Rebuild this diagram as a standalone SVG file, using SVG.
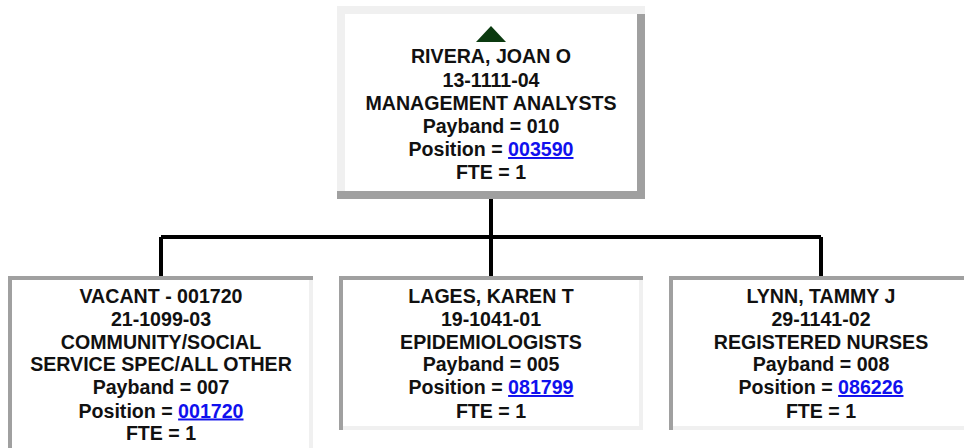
<svg xmlns="http://www.w3.org/2000/svg" width="964" height="448" viewBox="0 0 964 448">
<style>
.dk{fill:#a0a0a0}
.lt{fill:#f0f0f0}
.wh{fill:#ffffff}
.t{font-family:"Liberation Sans",Arial,sans-serif;font-weight:bold;font-size:19.6px;fill:#111;text-anchor:middle}
.lk{fill:#1010ee;text-decoration:underline}
.c{stroke:#000;stroke-width:4;fill:none}
</style>
<rect width="964" height="448" fill="#fff"/>
<g id="connectors">
<path class="c" d="M491 199V237M161 237H821M161 237V276M491 237V276M821 237V276"/>
</g>
<g id="node-rivera">
<rect class="dk" x="337" y="6" width="308" height="193"/>
<rect class="lt" x="337" y="6" width="308" height="8"/>
<rect class="lt" x="337" y="6" width="8" height="185"/>
<rect class="wh" x="345" y="14" width="292" height="177"/>
<polygon points="491,26 476,42 506,42" fill="#0b3a10"/>
<text class="t" x="491" y="63">RIVERA, JOAN O</text>
<text class="t" x="491" y="86.5">13-1111-04</text>
<text class="t" x="491" y="110">MANAGEMENT ANALYSTS</text>
<text class="t" x="491" y="133">Payband = 010</text>
<text class="t" x="491" y="156">Position = <tspan class="lk">003590</tspan></text>
<text class="t" x="491" y="178.5">FTE = 1</text>
</g>
<g id="node-vacant">
<rect class="dk" x="8" y="276" width="305" height="180"/>
<rect class="lt" x="309" y="280" width="4" height="176"/>
<rect class="wh" x="12" y="280" width="297" height="176"/>
<text class="t" x="161" y="303">VACANT - 001720</text>
<text class="t" x="161" y="326">21-1099-03</text>
<text class="t" x="161" y="348.5">COMMUNITY/SOCIAL</text>
<text class="t" x="161" y="371">SERVICE SPEC/ALL OTHER</text>
<text class="t" x="161" y="394">Payband = 007</text>
<text class="t" x="161" y="417.5">Position = <tspan class="lk">001720</tspan></text>
<text class="t" x="161" y="440">FTE = 1</text>
</g>
<g id="node-lages">
<rect class="dk" x="339" y="276" width="304" height="154"/>
<rect class="lt" x="639" y="280" width="4" height="150"/>
<rect class="lt" x="343" y="426" width="300" height="4"/>
<rect class="wh" x="343" y="280" width="296" height="146"/>
<text class="t" x="491" y="303">LAGES, KAREN T</text>
<text class="t" x="491" y="326">19-1041-01</text>
<text class="t" x="491" y="348.5">EPIDEMIOLOGISTS</text>
<text class="t" x="491" y="371">Payband = 005</text>
<text class="t" x="491" y="394">Position = <tspan class="lk">081799</tspan></text>
<text class="t" x="491" y="417.5">FTE = 1</text>
</g>
<g id="node-lynn">
<rect class="dk" x="669" y="276" width="305" height="154"/>
<rect class="lt" x="673" y="426" width="301" height="4"/>
<rect class="wh" x="673" y="280" width="297" height="146"/>
<text class="t" x="821" y="303">LYNN, TAMMY J</text>
<text class="t" x="821" y="326">29-1141-02</text>
<text class="t" x="821" y="348.5">REGISTERED NURSES</text>
<text class="t" x="821" y="371">Payband = 008</text>
<text class="t" x="821" y="394">Position = <tspan class="lk">086226</tspan></text>
<text class="t" x="821" y="417.5">FTE = 1</text>
</g>
</svg>
